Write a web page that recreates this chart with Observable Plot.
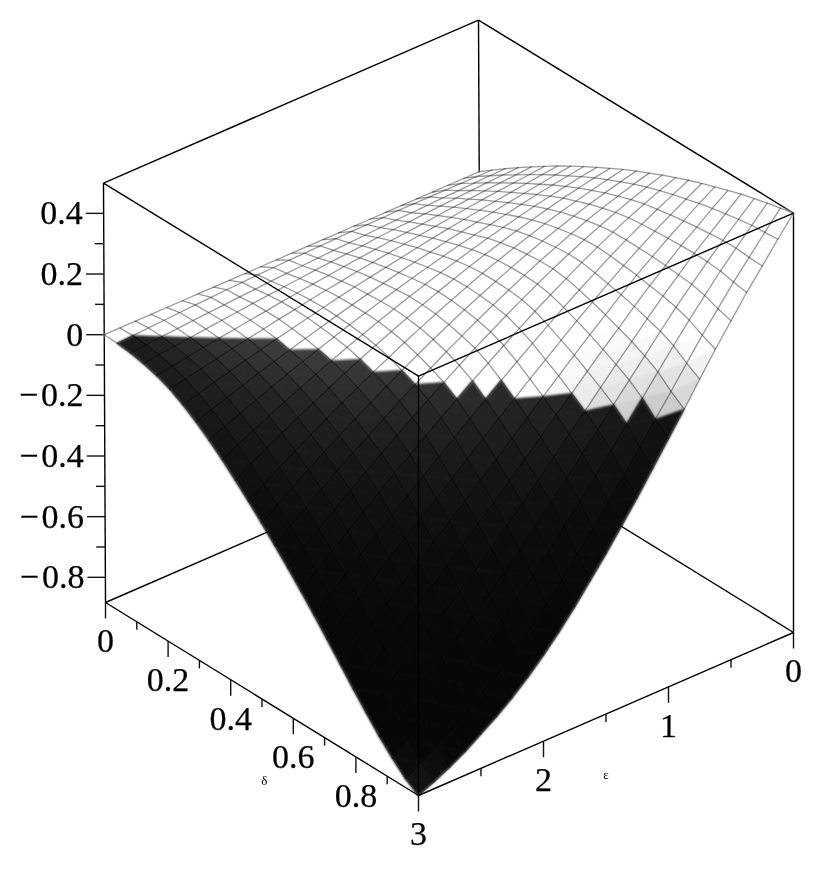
<!DOCTYPE html>
<html><head><meta charset="utf-8">
<style>html,body{margin:0;padding:0;background:#fff}</style>
<script src="https://cdn.jsdelivr.net/npm/d3@7"></script>
<script src="https://cdn.jsdelivr.net/npm/@observablehq/plot@0.6"></script>
</head><body><div id="c"></div>
<script>
// Surface height (thousandths). One row per delta step (0..1 in 24 steps),
// one column per epsilon step (0..3 in 24 steps).
const row00=[0,0,0,0,0,0,0,0,0,0,0,0,0,0,0,0,0,0,0,0,0,0,0,0,0];
const row01=[32,33,33,33,33,33,33,32,31,31,30,28,27,26,24,22,20,18,15,13,10,7,4,1,-2];
const row02=[63,62,60,58,56,54,52,50,48,45,42,40,37,34,31,28,24,21,17,14,10,6,2,-3,-7];
const row03=[93,91,88,85,82,78,75,71,68,64,59,55,51,46,41,36,31,26,20,15,9,3,-3,-9,-16];
const row04=[122,118,114,110,105,101,96,90,85,80,74,68,62,55,49,42,35,27,20,12,5,-3,-12,-20,-29];
const row05=[150,145,140,135,129,123,116,109,102,95,88,80,72,63,55,46,36,27,17,7,-3,-14,-25,-36,-47];
const row06=[178,172,165,158,151,144,136,128,119,110,100,90,80,70,59,47,35,23,11,-2,-15,-29,-43,-57,-72];
const row07=[204,197,189,181,173,164,154,144,134,122,111,99,86,73,60,46,31,16,1,-15,-31,-48,-66,-83,-102];
const row08=[229,221,213,204,194,183,172,160,148,135,121,107,92,76,60,43,25,7,-11,-30,-50,-71,-92,-113,-136];
const row09=[253,245,235,225,214,202,189,176,161,146,130,113,96,77,58,38,18,-4,-26,-49,-72,-96,-122,-147,-174];
const row10=[276,267,256,245,232,218,204,188,171,154,135,116,95,74,52,29,5,-19,-45,-71,-98,-126,-154,-184,-215];
const row11=[299,288,275,262,248,232,215,197,178,158,136,114,91,67,42,16,-11,-39,-67,-97,-127,-158,-191,-224,-258];
const row12=[320,307,293,278,261,243,224,203,181,158,134,109,83,56,28,-1,-31,-62,-94,-126,-159,-194,-229,-266,-303];
const row13=[340,326,309,292,273,252,230,207,182,156,129,101,72,42,11,-21,-54,-88,-123,-158,-194,-232,-270,-309,-350];
const row14=[360,343,324,304,282,259,234,208,180,151,121,90,58,24,-10,-45,-81,-118,-155,-193,-232,-273,-314,-355,-398];
const row15=[378,358,336,313,288,261,233,202,171,139,105,71,35,-1,-39,-77,-115,-155,-194,-235,-276,-318,-361,-404,-448];
const row16=[396,371,345,318,289,258,225,191,156,119,82,44,5,-35,-76,-116,-158,-199,-241,-283,-325,-368,-412,-456,-500];
const row17=[412,383,353,322,288,253,216,177,138,97,55,14,-29,-72,-115,-159,-203,-246,-290,-333,-376,-421,-465,-509,-554];
const row18=[427,395,360,325,287,248,206,162,119,74,28,-18,-64,-110,-158,-204,-250,-296,-341,-386,-430,-475,-520,-565,-609];
const row19=[442,405,366,327,284,240,194,145,97,48,-3,-52,-103,-152,-203,-252,-301,-348,-395,-441,-486,-532,-576,-620,-664];
const row20=[456,414,371,328,280,232,180,127,74,20,-35,-89,-143,-196,-250,-302,-353,-402,-450,-496,-541,-587,-631,-674,-717];
const row21=[468,422,375,327,275,222,165,106,49,-10,-70,-127,-186,-242,-299,-354,-407,-457,-506,-553,-597,-642,-686,-727,-768];
const row22=[480,429,376,323,265,206,144,80,16,-47,-112,-174,-236,-295,-355,-412,-467,-518,-566,-612,-655,-698,-738,-776,-813];
const row23=[490,432,372,313,248,183,113,42,-27,-97,-167,-233,-299,-362,-424,-483,-538,-589,-636,-679,-718,-757,-793,-824,-854];
const row24=[500,436,370,305,234,163,87,10,-65,-140,-215,-285,-355,-420,-485,-545,-600,-650,-695,-735,-770,-805,-835,-860,-883];
const Z=[row00,row01,row02,row03,row04,row05,row06,row07,row08,row09,row10,row11,row12,row13,row14,row15,row16,row17,row18,row19,row20,row21,row22,row23,row24].map(r=>r.map(v=>v/1000));

const zMajor=[.4,.2,0,-.2,-.4,-.6,-.8],zMinor=[.3,.1,-.1,-.3,-.5,-.7];
const dMajor=[0,.2,.4,.6,.8],dMinor=[.1,.3,.5,.7,.9];
const eMajor=[3,2,1,0],eMinor=[.5,1.5,2.5];
const zMin=-.883,zMax=.5;
const N=row00.length;

// Axonometric view of the plot box
const px=(d,e,z)=>{const v=e/3,w=(z-zMin)/1.383;return 480+313*d-375*v-2*w*(1-d);};
const py=(d,e,z)=>439+193*d+163*(e/3)-303.3*(z-zMin);
const pt=(d,e,z)=>[px(d,e,z),py(d,e,z)];

// height where the surface colour flips from dark to white, by delta row
const flipByRow=[-.002,.002,.003,.003,.0035,.006,.006,.006,.006,0,-.008,-.008,-.008,-.008,-.018,-.018,-.018,-.018,-.018,-.018,-.018,-.018,-.018,-.01];
function shade(i,mean,cx,cy){
  const u=i/24;
  if(mean>=flipByRow[i]){const wt=Math.max(0,Math.min(1,(u-.72)/.2));const g=Math.round(255-wt*Math.max(0,55*(1-mean/.16)));return `rgb(${g},${g},${g})`;}
  const lat=Math.max(.32,1-Math.pow((cx-420)/300,2)*.7);
  const vert=5+51*Math.exp(-(cy-372)/95);
  const low=Math.max(0,(cy-745)/50)*18;
  const g=Math.round(vert*lat+low);
  return `rgb(${g},${g},${g})`;
}
const tris=[];let id=0;
for(let i=0;i<N-1;i++)for(let j=0;j<N-1;j++){
  const qc=pt((i+.5)/24,(j+.5)/8,(Z[i][j]+Z[i+1][j]+Z[i][j+1]+Z[i+1][j+1])/4);
  for(const t of [[[i,j],[i+1,j],[i,j+1]],[[i+1,j+1],[i+1,j],[i,j+1]]]){
    const zs=t.map(([a,b])=>Z[a][b]);const mean=d3.mean(zs);
    const ps=t.map(([a,b],k)=>pt(a/24,b/8,zs[k]));
    const f=shade(i,mean,qc[0],qc[1]);
    ps.forEach(p=>tris.push({x:p[0],y:p[1],id,f}));id++;
  }
}
const grid=[];
for(let i=0;i<N;i++)for(let j=0;j<N;j++){const p=pt(i/24,j/8,Z[i][j]);grid.push({x:p[0],y:p[1],id:"a"+i});}
for(let j=0;j<N;j++)for(let i=0;i<N;i++){const p=pt(i/24,j/8,Z[i][j]);grid.push({x:p[0],y:p[1],id:"b"+j});}

const zt=zMax,zb=zMin;
const seg=(a,b)=>{const p=pt(...a),q=pt(...b);return {x1:p[0],y1:p[1],x2:q[0],y2:q[1]};};
const backEdges=[seg([0,0,zb],[0,0,zt]),seg([0,0,zt],[0,3,zt]),seg([0,0,zt],[1,0,zt]),seg([0,0,zb],[0,3,zb]),seg([0,0,zb],[1,0,zb]),
 seg([0,3,zb],[0,3,zt]),seg([1,0,zb],[1,0,zt]),seg([0,3,zb],[1,3,zb]),seg([1,3,zb],[1,0,zb])];
const frontEdges=[seg([1,3,zb],[1,3,zt]),seg([0,3,zt],[1,3,zt]),seg([1,3,zt],[1,0,zt])];
const ticks=[];
zMajor.forEach(z=>{const p=pt(0,3,z);ticks.push({x1:p[0],y1:p[1],x2:p[0]-18,y2:p[1]});});
zMinor.forEach(z=>{const p=pt(0,3,z);ticks.push({x1:p[0],y1:p[1],x2:p[0]-9,y2:p[1]});});
dMajor.forEach(d=>{const p=pt(d,3,zb);ticks.push({x1:p[0],y1:p[1],x2:p[0],y2:p[1]+16});});
dMinor.forEach(d=>{const p=pt(d,3,zb);ticks.push({x1:p[0],y1:p[1],x2:p[0],y2:p[1]+8});});
eMajor.forEach(e=>{const p=pt(1,e,zb);ticks.push({x1:p[0],y1:p[1],x2:p[0],y2:p[1]+16});});
eMinor.forEach(e=>{const p=pt(1,e,zb);ticks.push({x1:p[0],y1:p[1],x2:p[0],y2:p[1]+8});});
const fmt=v=>v<0?"−\u200A"+(-v):String(v);
const labels=[
 ...zMajor.map(z=>{const p=pt(0,3,z);return {x:p[0]-21,y:p[1],t:fmt(z),a:"end"};}),
 ...dMajor.map(d=>{const p=pt(d,3,zb);return {x:p[0],y:p[1]+39,t:String(d),a:"middle"};}),
 ...eMajor.map(e=>{const p=pt(1,e,zb);return {x:p[0],y:p[1]+39,t:String(e),a:"middle"};})
];
const axisNames=[{d:.52,e:3,t:"δ",dy:78,dx:-4},{d:1,e:1.5,t:"ε",dy:61,dx:0}];
const blurred=b=>(i,s,v,d,c,next)=>{const g=next(i,s,v,d,c);g.style.filter=`blur(${b}px)`;return g;};
const textStyle={fontSize:34,fontFamily:"Liberation Serif",fill:"#000",stroke:"#000",strokeWidth:.25};
const plot=Plot.plot({width:831,height:882,margin:0,
 x:{domain:[0,831],range:[0,831],axis:null},y:{domain:[0,882],range:[0,882],axis:null},
 style:{background:"#fff",filter:"blur(0.4px)"},
 marks:[
  Plot.link(backEdges,{x1:"x1",y1:"y1",x2:"x2",y2:"y2",stroke:"#000",strokeWidth:1.4}),
  Plot.link(ticks,{x1:"x1",y1:"y1",x2:"x2",y2:"y2",stroke:"#111",strokeWidth:1.4}),
  Plot.line(tris,{x:"x",y:"y",z:"id",fill:"f",stroke:"f",strokeWidth:.8,curve:"linear-closed",render:blurred(.8)}),
  Plot.line(grid,{x:"x",y:"y",z:"id",stroke:"#000",strokeOpacity:.4,strokeWidth:1.3}),
  Plot.link(frontEdges,{x1:"x1",y1:"y1",x2:"x2",y2:"y2",stroke:"#000",strokeWidth:1.4}),
  Plot.text(labels,{x:"x",y:"y",text:"t",textAnchor:"end",filter:d=>d.a==="end",...textStyle}),
  Plot.text(labels,{x:"x",y:"y",text:"t",textAnchor:"middle",filter:d=>d.a==="middle",...textStyle}),
  Plot.text(axisNames,{x:d=>px(d.d,d.e,zb)+d.dx,y:d=>py(d.d,d.e,zb)+d.dy,text:"t",fontSize:13,fontFamily:"Liberation Serif",fill:"#000"})
 ]});
document.getElementById("c").appendChild(plot);
</script></body></html>
